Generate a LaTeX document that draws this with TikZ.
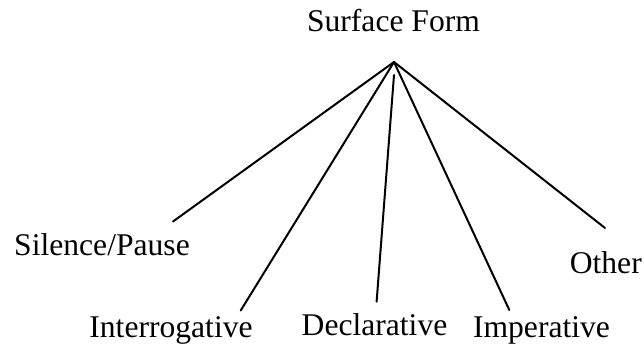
\documentclass[tikz,border=0pt]{standalone}
\usepackage{fontspec}
\setmainfont{Liberation Serif}
\tikzset{
  catlab/.style = {font=\fontsize{31.6}{36}\selectfont, inner sep=0pt, anchor=base},
  branch/.style = {draw=black, line width=2pt, line cap=round},
}
\begin{document}
\begin{tikzpicture}[x=1pt, y=-1pt]
  \useasboundingbox (0,0) rectangle (644,345);
  \node[catlab] (sf)   at (393.5,31.5) {Surface Form};
  \node[catlab] (sil)  at (102,255)    {Silence/Pause};
  \node[catlab] (intr) at (171,337)    {Interrogative};
  \node[catlab] (decl) at (374.5,335)  {Declarative};
  \node[catlab] (imp)  at (541.5,337)  {Imperative};
  \node[catlab] (oth)  at (605.8,273.5) {Other};
  \coordinate (apex)    at (394,62);
  \coordinate (declTop) at (394,75);
  \coordinate (silEnd)  at (173,221.5);
  \coordinate (intrEnd) at (240.7,310.5);
  \coordinate (declEnd) at (376.6,301.7);
  \coordinate (impEnd)  at (509.3,310);
  \coordinate (othEnd)  at (605,228);
  \draw[branch] (apex) -- (silEnd);
  \draw[branch] (apex) -- (intrEnd);
  \draw[branch] (declTop) -- (declEnd);
  \draw[branch] (apex) -- (impEnd);
  \draw[branch] (apex) -- (othEnd);
\end{tikzpicture}
\end{document}
